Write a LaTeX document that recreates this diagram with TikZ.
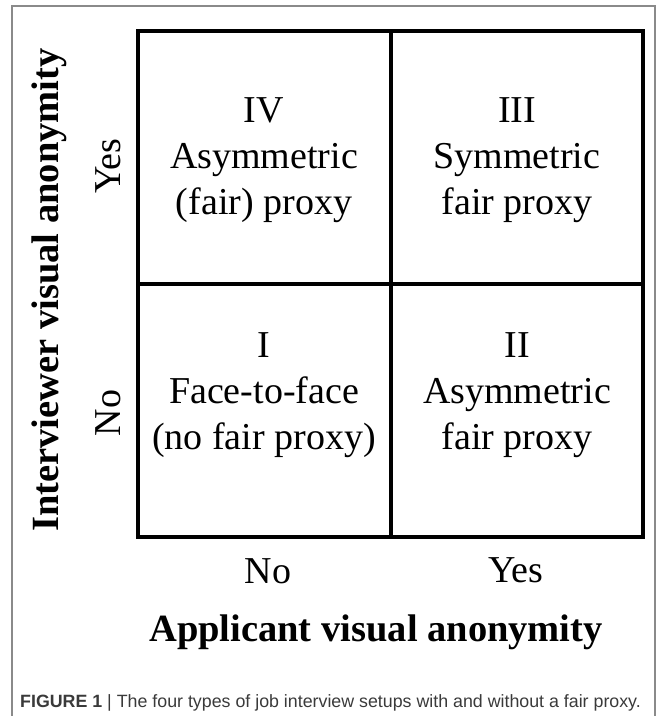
\documentclass[tikz,border=0pt]{standalone}
\usepackage{fontspec}
\setmainfont{Liberation Serif}
\newfontfamily\capfont{Liberation Sans}
\usepackage{xcolor}
\usepackage{tikz}

\definecolor{framegray}{HTML}{8A8A8A}
\definecolor{captext}{HTML}{3A3A3A}

\begin{document}
\begin{tikzpicture}[x=1pt, y=-1pt,
        cell/.style={align=center, inner sep=0pt, font=\fontsize{38}{46}\selectfont},
        axis/.style={inner sep=0pt, anchor=base, font=\fontsize{38}{46}\selectfont},
        title/.style={inner sep=0pt, font=\fontsize{38.5}{46}\selectfont\bfseries}]
             \useasboundingbox (0,0) rectangle (667,716);
             \draw[framegray, line width=1.3pt] (12,716) -- (12,6) -- (655,6) -- (655,716);

             \draw[line width=4pt] (138,31) rectangle (643,537);
             \draw[line width=4pt] (390.5,31) -- (390.5,537);
             \draw[line width=4pt] (138,284) -- (643,284);

             \node[cell] (four) at (264, 160.5) {IV\\Asymmetric\\(fair) proxy};
             \node[cell] (three) at (517, 160.5) {III\\Symmetric\\fair proxy};
             \node[cell] (one) at (264, 395.5) {I\\Face-to-face\\(no fair proxy)};
             \node[cell] (two) at (517, 395.5) {II\\Asymmetric\\fair proxy};

             \node[axis, anchor=center, rotate=90] (yesrow) at (108, 166) {Yes};
             \node[axis, anchor=center, rotate=90] (norow) at (108, 413) {No};
             \node[axis] (nocol) at (268, 583) {No};
             \node[axis] (yescol) at (516, 582) {Yes};

             \node[title, rotate=90] (interviewer) at (49, 290) {Interviewer visual anonymity};
             \node[title, anchor=base] (applicant) at (376, 641) {Applicant visual anonymity};

             \node[anchor=base west, inner sep=0pt, text=captext, font=\capfont\fontsize{17.8}{20}\selectfont] (caption) at (20, 707)
                 {\textbf{FIGURE 1} | The four types of job interview setups with and without a fair proxy.};
             \end{tikzpicture}
\end{document}
